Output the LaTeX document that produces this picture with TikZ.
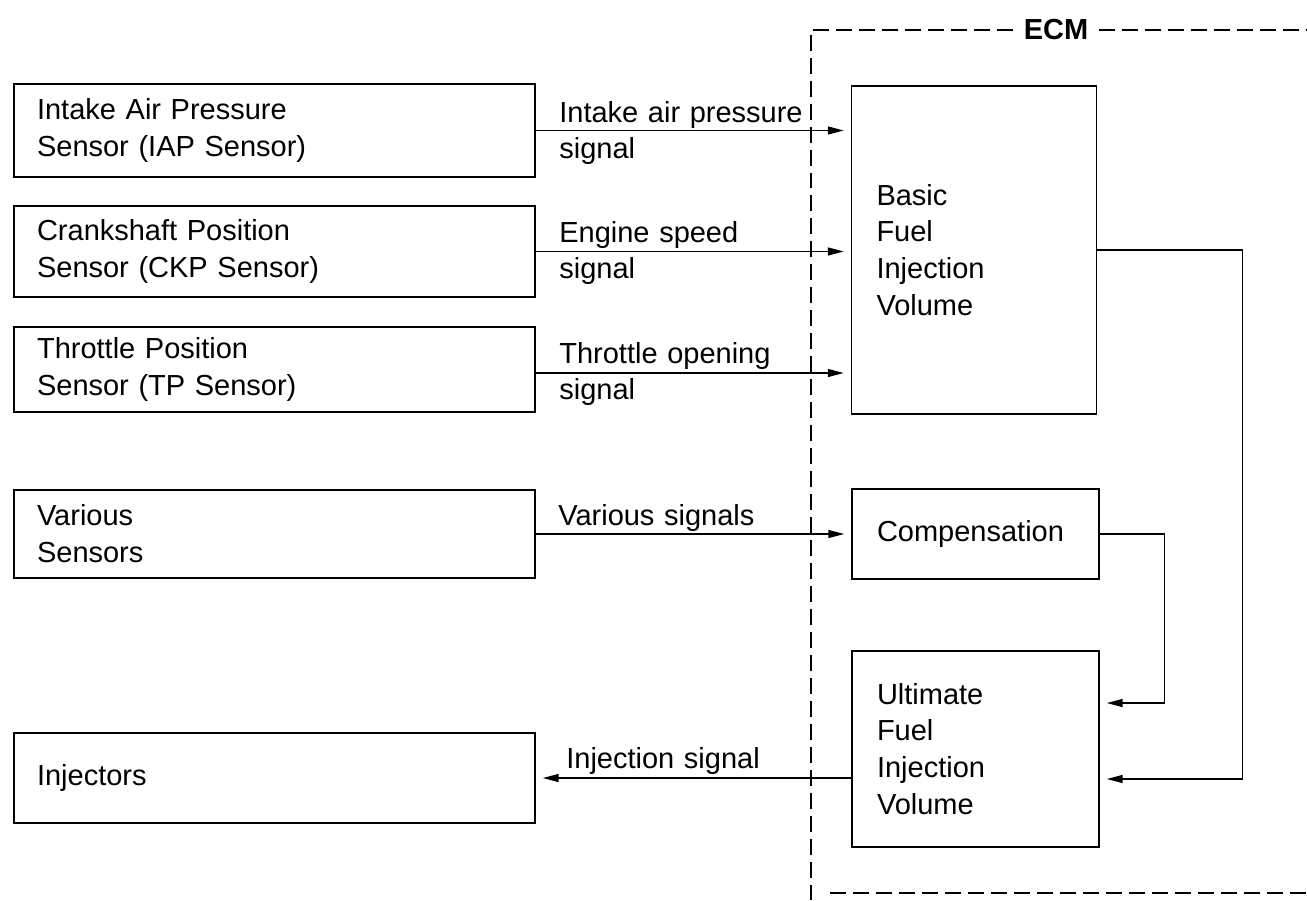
\documentclass[tikz,border=0pt]{standalone}
\usepackage{fontspec}
\setmainfont{Liberation Sans}
\usetikzlibrary{arrows.meta}
\begin{document}
\begin{tikzpicture}[x=0.02cm,y=-0.02cm,
  every node/.style={font=\fontsize{16.5}{21}\selectfont},
  lbox/.style={draw, line width=0.9pt, align=left, inner xsep=0.46cm, inner ysep=0pt, text width=9.5cm},
  rbox/.style={draw, line width=0.9pt, align=left, inner xsep=0.5cm, inner ysep=0pt, text width=3.9cm},
  sig/.style={anchor=base west, inner sep=0pt, text width=6cm, align=left},
  arr/.style={line width=0.8pt, -{Triangle[length=9pt,width=4.5pt]}, shorten >=0.14cm},
  flow/.style={line width=0.8pt},
  ecmline/.style={line width=0.7pt, dash pattern=on 0.32cm off 0.14cm}]
\useasboundingbox (0,0) rectangle (1307,900);

% left boxes
\node[lbox, minimum height=1.86cm] (iap) at (274.5,130.5) {Intake Air Pressure\\Sensor (IAP Sensor)};
\node[lbox, minimum height=1.82cm] (ckp) at (274.5,251.5) {Crankshaft Position\\Sensor (CKP Sensor)};
\node[lbox, minimum height=1.70cm] (tp) at (274.5,369.5) {Throttle Position\\Sensor (TP Sensor)};
\node[lbox, minimum height=1.76cm] (var) at (274.5,534) {Various\\Sensors};
\node[lbox, minimum height=1.80cm] (inj) at (274.5,778) {Injectors};

% ECM boxes
\node[rbox, minimum height=6.56cm] (basic) at (974,250) {Basic\\Fuel\\Injection\\Volume};
\node[rbox, text width=3.94cm, minimum height=1.80cm] (comp) at (975.5,534) {Compensation};
\node[rbox, text width=3.94cm, minimum height=3.92cm] (ult) at (975.5,749) {Ultimate\\Fuel\\Injection\\Volume};

% ECM frame
\node[font=\fontsize{16.5}{20}\selectfont\bfseries, inner xsep=0.2cm, inner ysep=2pt] (ecm) at (1056,30) {ECM};
\coordinate (ecmc) at (811,30);
\coordinate (ecmbl) at (811,900);
\coordinate (ecmr) at (1307,30);
\coordinate (ecmb1) at (830,893);
\coordinate (ecmb2) at (1307,893);
\draw[ecmline] (ecm.west) -- (ecmc) -- (ecmbl);
\draw[ecmline] (ecm.east) -- (ecmr);
\draw[ecmline] (ecmb1) -- (ecmb2);

% signal labels
\node[sig] (l1) at (559,122) {Intake air pressure\\signal};
\node[sig] (l2) at (559,242) {Engine speed\\signal};
\node[sig] (l3) at (559,363) {Throttle opening\\signal};
\node[sig] (l4) at (558,525) {Various signals};
\node[sig] (l5) at (566,768) {Injection signal};

% connectors
\draw[arr] (iap.east) -- (iap.east -| basic.west);
\draw[arr] (ckp.east) -- (ckp.east -| basic.west);
\draw[arr] ([yshift=-0.07cm]tp.east) coordinate (tpo) -- (tpo -| basic.west);
\draw[arr] (var.east) -- (var.east -| comp.west);
\draw[arr] (inj.east -| ult.west) -- (inj.east);
\draw[arr] (comp.east) -- ++(65,0) |- ([yshift=0.92cm]ult.east);
\draw[arr] (basic.east) -- ++(145,0) |- ([yshift=-0.6cm]ult.east);
\end{tikzpicture}
\end{document}
